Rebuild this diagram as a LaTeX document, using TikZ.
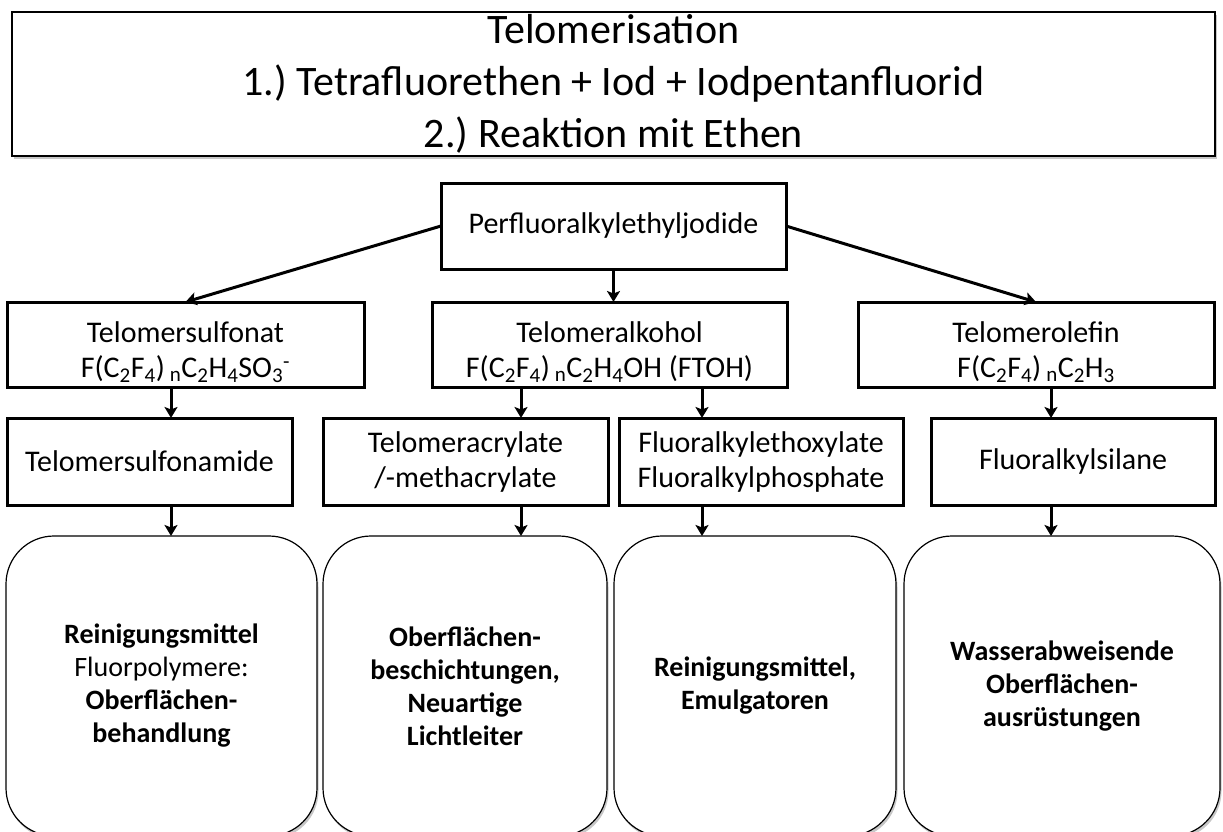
\documentclass[tikz,border=0pt]{standalone}
\usepackage{fontspec}
\setmainfont{Carlito}
\usetikzlibrary{arrows.meta,shadows}
\frenchspacing
\newcommand{\toppad}{\rule{0pt}{36pt}}
\begin{document}
\begin{tikzpicture}[x=1pt,y=-1pt,
  softshadow/.style={drop shadow={shadow xshift=1.5pt,shadow yshift=-3pt,opacity=0.22,fill=black}},
  titlebox/.style={draw,line width=1.5pt,fill=white,softshadow,inner sep=0pt,outer sep=0pt,align=center,font=\fontsize{42}{52}\selectfont},
  pbox/.style={draw,line width=3pt,fill=white,inner sep=0pt,outer sep=0pt,align=center,font=\fontsize{30}{35}\selectfont},
  ubox/.style={draw,line width=1.2pt,fill=white,rounded corners=48pt,softshadow,inner sep=0pt,outer sep=0pt,align=center,font=\fontsize{28}{33}\selectfont},
  arr/.style={line width=3pt,-{Stealth[length=11pt,width=13pt,inset=2.5pt]}}
]
\useasboundingbox (0,0) rectangle (1223,832);

\node[titlebox,minimum width=1203pt,minimum height=144pt] (top) at (613.5,84)
  {Telomerisation\\1.) Tetrafluorethen + Iod + Iodpentanfluorid\\2.) Reaktion mit Ethen};

\node[pbox,minimum width=345pt,minimum height=86pt] (pf) at (613.5,226) {Perfluoralkylethyljodide};

\node[pbox,minimum width=357pt,minimum height=85pt] (sulf) at (185.5,344.5)
  {\toppad Telomersulfonat\\F(C\textsubscript{2}F\textsubscript{4})\,\textsubscript{n}C\textsubscript{2}H\textsubscript{4}SO\textsubscript{3}\textsuperscript{-}};
\node[pbox,minimum width=355pt,minimum height=85pt] (alk) at (609.5,344.5)
  {\toppad Telomeralkohol\\F(C\textsubscript{2}F\textsubscript{4})\,\textsubscript{n}C\textsubscript{2}H\textsubscript{4}OH (FTOH)};
\node[pbox,minimum width=356pt,minimum height=85pt] (olef) at (1036,344.5)
  {\toppad Telomerolefin\\F(C\textsubscript{2}F\textsubscript{4})\,\textsubscript{n}C\textsubscript{2}H\textsubscript{3}};

\node[pbox,minimum width=285pt,minimum height=87pt] (sam) at (149.5,461.5) {Telomersulfonamide};
\node[pbox,minimum width=285pt,minimum height=87pt] (acr) at (465.5,461.5) {Telomeracrylate\\/-methacrylate};
\node[pbox,minimum width=284pt,minimum height=87pt] (fla) at (761,461.5) {Fluoralkylethoxylate\\Fluoralkylphosphate};
\node[pbox,minimum width=284pt,minimum height=87pt] (sil) at (1073,461.5) {Fluoralkylsilane};

\node[ubox,minimum width=311pt,minimum height=300pt] (b1) at (161.5,686)
  {\textbf{Reinigungsmittel}\\Fluorpolymere:\\\textbf{Oberflächen-}\\\textbf{behandlung}};
\node[ubox,minimum width=284pt,minimum height=300pt] (b2) at (465,686)
  {\textbf{Oberflächen-}\\\textbf{beschichtungen,}\\\textbf{Neuartige}\\\textbf{Lichtleiter}};
\node[ubox,minimum width=282pt,minimum height=300pt] (b3) at (755,686)
  {\textbf{Reinigungsmittel,}\\\textbf{Emulgatoren}};
\node[ubox,minimum width=316pt,minimum height=300pt] (b4) at (1062,686)
  {\textbf{Wasserabweisende}\\\textbf{Oberflächen-}\\\textbf{ausrüstungen}};

\coordinate (c1) at (171,0);
\coordinate (c2) at (521,0);
\coordinate (c3) at (702,0);
\coordinate (c4) at (1051,0);

\draw[arr] (pf.west) -- (sulf.north);
\draw[arr] (pf.east) -- (olef.north);
\draw[arr] (pf.south) -- (pf.south |- alk.north);

\draw[arr] (sulf.south -| c1) -- (sam.north -| c1);
\draw[arr] (alk.south -| c2) -- (acr.north -| c2);
\draw[arr] (alk.south -| c3) -- (fla.north -| c3);
\draw[arr] (olef.south -| c4) -- (sil.north -| c4);

\draw[arr] (sam.south -| c1) -- (b1.north -| c1);
\draw[arr] (acr.south -| c2) -- (b2.north -| c2);
\draw[arr] (fla.south -| c3) -- (b3.north -| c3);
\draw[arr] (sil.south -| c4) -- (b4.north -| c4);
\end{tikzpicture}
\end{document}
